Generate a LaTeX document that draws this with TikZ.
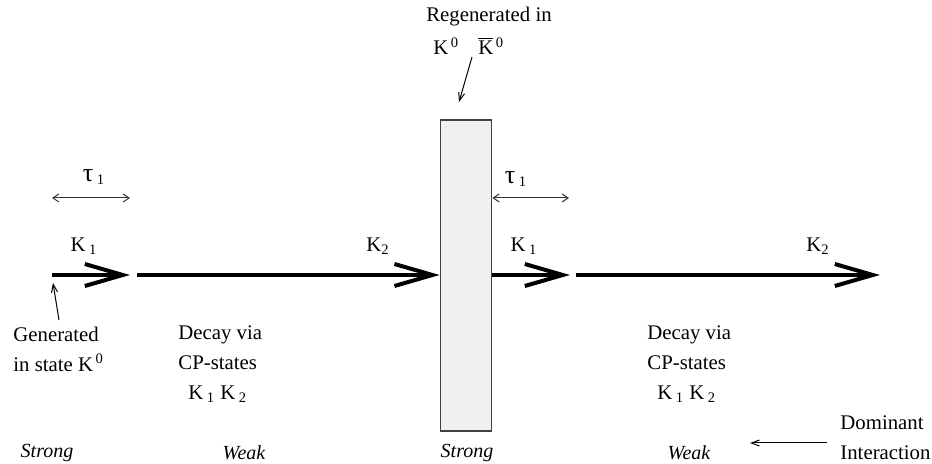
\documentclass[tikz,border=0pt]{standalone}
\usepackage{fontspec}
\setmainfont{Liberation Serif}
\usetikzlibrary{arrows.meta, positioning}

\begin{document}
\begin{tikzpicture}[
    x=0.5pt, y=-0.5pt,
    beam/.style={line width=2pt,
                 -{Straight Barb[length=19pt, width=11pt, line width=2pt]}},
    span/.style={line width=0.5pt, draw=black!80,
                 {Straight Barb[length=3pt, width=4pt]}-{Straight Barb[length=3pt, width=4pt]}},
    pointer/.style={line width=0.5pt, -{Straight Barb[length=4pt, width=3pt]}},
    lbl/.style={inner sep=0pt, font=\fontsize{10.4}{15}\selectfont},
    note/.style={lbl, align=left, anchor=west},
    regen/.style={draw=black!75, fill=black!6, line width=0.6pt,
                  minimum width=25.75pt, minimum height=155.5pt, inner sep=0pt}
  ]
  \useasboundingbox (0,0) rectangle (932,464);

  % the regenerator block
  \node[regen] (block) at (466,275.5) {};

  % beam segments
  \coordinate (b0) at (52,275);
  \coordinate (b1) at (130,275);
  \coordinate (b2) at (137,275);
  \coordinate (b3) at (570,275);
  \coordinate (b4) at (576,275);
  \coordinate (b5) at (880,275);
  \draw[beam] (b0) -- (b1);
  \draw[beam] (b2) -- (block.west |- b2);
  \draw[beam] (block.east |- b2) -- (b3);
  \draw[beam] (b4) -- (b5);

  % beam labels
  \node[lbl] (ka1) at (84,246) {K\,\textsubscript{1}};
  \node[lbl] (ka2) at (378,246) {K\textsubscript{2}};
  \node[lbl] (kb1) at (524,246) {K\,\textsubscript{1}};
  \node[lbl] (kb2) at (818,246) {K\textsubscript{2}};

  % lifetimes
  \node[lbl] (tau1) at (94,177) {{\fontsize{13}{13}\selectfont τ}\,\textsubscript{1}};
  \node[lbl] (tau2) at (516,179) {{\fontsize{13}{13}\selectfont τ}\,\textsubscript{1}};
  \coordinate (ta) at (52,198);
  \coordinate (tb) at (130,198);
  \coordinate (tc) at (569,198);
  \draw[span] (ta) -- (tb);
  \draw[span] (block.east |- tc) -- (tc);

  % regeneration
  \node[lbl] (regtxt) at (489,17) {Regenerated in};
  \node[lbl, anchor=west] (k0) at (433,46) {K\textsuperscript{\,0}};
  \node[lbl, anchor=west] (k0bar) at (478,46) {$\overline{\hbox{K}}$\textsuperscript{\,0}};
  \coordinate (rp) at (472,57);
  \coordinate (rq) at (459,102);
  \draw[pointer] (rp) -- (rq);

  % source
  \node[note] (gen) at (13,349) {Generated\\in state K\textsuperscript{\,0}};
  \coordinate (gp) at (59,320);
  \coordinate (gq) at (53,283);
  \draw[pointer] (gp) -- (gq);

  % decay notes
  \node[note] (decay1) at (178,364) {Decay via\\CP-states\\\hspace*{5pt}K\,\textsubscript{1} K\,\textsubscript{2}};
  \node[note] (decay2) at (647,364) {Decay via\\CP-states\\\hspace*{5pt}K\,\textsubscript{1} K\,\textsubscript{2}};

  % interactions
  \node[lbl, font=\itshape] (str1) at (47,453) {Strong};
  \node[lbl, font=\itshape] (wk1) at (244,453) {Weak};
  \node[lbl, font=\itshape] (str2) at (467,453) {Strong};
  \node[lbl, font=\itshape] (wk2) at (689,453) {Weak};
  \node[note] (dom) at (840,438) {Dominant\\Interaction};
  \coordinate (dp) at (827,443);
  \coordinate (dq) at (750,443);
  \draw[pointer] (dp) -- (dq);
\end{tikzpicture}
\end{document}
